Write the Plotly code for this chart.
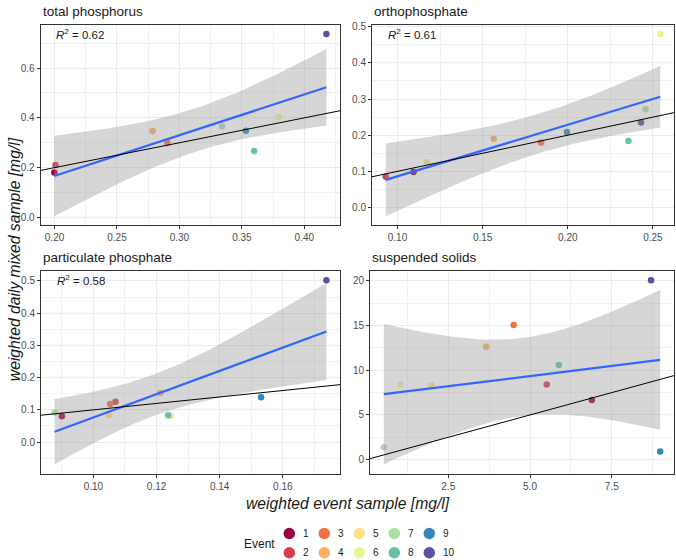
import numpy as np
import plotly.graph_objects as go

# ---------------- data ----------------
events = [1, 2, 3, 4, 5, 6, 7, 8, 9, 10]
event_colors = ["#9E0142", "#D53E4F", "#F46D43", "#FDAE61", "#FEE08B",
                "#E6F598", "#ABDDA4", "#66C2A5", "#3288BD", "#5E4FA2"]

panel_titles = ["total phosphorus", "orthophosphate", "particulate phosphate", "suspended solids"]
r2_labels = ["0.62", "0.61", "0.58", None]

tp_event = [0.1998, 0.2008, 0.2903, 0.2785, None, 0.3796, 0.3340, 0.3598, 0.3532, 0.4177]
tp_daily = [0.180, 0.211, 0.299, 0.347, None, 0.403, 0.366, 0.267, 0.348, 0.737]

op_event = [0.1094, 0.0931, 0.1843, 0.1565, 0.1172, 0.2543, 0.2457, 0.2356, 0.1995, 0.2430]
op_daily = [0.098, 0.086, 0.180, 0.190, 0.125, 0.480, 0.272, 0.184, 0.209, 0.235]

pp_event = [0.0900, 0.1070, 0.1053, 0.1212, 0.1049, 0.1245, 0.0877, 0.1237, 0.1531, 0.1738]
pp_daily = [0.080, 0.125, 0.118, 0.152, 0.083, 0.081, 0.092, 0.083, 0.139, 0.502]

ss_event = [6.89, 5.51, 4.50, 3.66, 1.99, 1.03, 0.53, 5.88, 8.98, 8.70]
ss_daily = [6.67, 8.40, 15.07, 12.62, 8.29, 8.44, 1.40, 10.59, 0.92, 20.07]

x_data = [tp_event, op_event, pp_event, ss_event]
y_data = [tp_daily, op_daily, pp_daily, ss_daily]

x_dticks = [0.05, 0.05, 0.02, 2.5]
y_dticks = [0.2, 0.1, 0.1, 5]
x_fmts = [".2f", ".2f", ".2f", ".1f"]
y_fmts = [".1f", ".1f", ".1f", "d"]

# ---------------- layout geometry (pixels) ----------------
W, H = 676, 560
panel_px = [  # (left, right, top, bottom)
    (40.7, 340, 21, 223),
    (372, 674, 21, 223),
    (41, 340, 269, 473),
    (370, 674, 269, 473),
]

T975 = {7: 2.364624, 8: 2.306004, 9: 2.262157}


def lm_band(x, y, npts=80):
    n = len(x)
    b1, b0 = np.polyfit(x, y, 1)
    resid = y - (b0 + b1 * x)
    s = np.sqrt(np.sum(resid ** 2) / (n - 2))
    xs = np.linspace(x.min(), x.max(), npts)
    yhat = b0 + b1 * xs
    sxx = np.sum((x - x.mean()) ** 2)
    se = s * np.sqrt(1.0 / n + (xs - x.mean()) ** 2 / sxx)
    t = T975[n - 2]
    return xs, yhat, yhat - t * se, yhat + t * se


fig = go.Figure()
layout = dict(
    width=W, height=H, margin=dict(l=0, r=0, t=0, b=0),
    paper_bgcolor="white", plot_bgcolor="rgba(0,0,0,0)",
    font=dict(family="Liberation Sans, Arial, sans-serif", color="#1A1A1A"),
    showlegend=False,
)
annotations = []

for i in range(4):
    k = i + 1
    xa = "x" if k == 1 else f"x{k}"
    ya = "y" if k == 1 else f"y{k}"
    pts = [(xv, yv, c) for xv, yv, c in zip(x_data[i], y_data[i], event_colors)
           if xv is not None and yv is not None]
    xs_p = np.array([p[0] for p in pts])
    ys_p = np.array([p[1] for p in pts])
    cs_p = [p[2] for p in pts]

    xs, yhat, lo, hi = lm_band(xs_p, ys_p)

    xmin, xmax = xs_p.min(), xs_p.max()
    xspan = xmax - xmin
    xr = [xmin - 0.05 * xspan, xmax + 0.05 * xspan]
    ymin = min(ys_p.min(), lo.min())
    ymax = max(ys_p.max(), hi.max())
    yspan = ymax - ymin
    yr = [ymin - 0.05 * yspan, ymax + 0.05 * yspan]

    fig.add_trace(go.Scatter(x=xs_p, y=ys_p, mode="markers", xaxis=xa, yaxis=ya,
                             marker=dict(color=cs_p, size=6.5, line=dict(width=0)),
                             hoverinfo="skip"))
    fig.add_trace(go.Scatter(x=np.concatenate([xs, xs[::-1]]), y=np.concatenate([hi, lo[::-1]]),
                             mode="lines", fill="toself", fillcolor="rgba(153,153,153,0.4)",
                             line=dict(width=0), xaxis=xa, yaxis=ya, hoverinfo="skip"))
    fig.add_trace(go.Scatter(x=xs, y=yhat, mode="lines", line=dict(color="#3366FF", width=2.2),
                             xaxis=xa, yaxis=ya, hoverinfo="skip"))
    fig.add_trace(go.Scatter(x=[xr[0], xr[1]], y=[xr[0], xr[1]], mode="lines",
                             line=dict(color="black", width=1), xaxis=xa, yaxis=ya,
                             hoverinfo="skip"))

    l, r, t, b = panel_px[i]
    common = dict(showgrid=True, gridcolor="#EBEBEB", gridwidth=1, zeroline=False,
                  showline=True, mirror=True, linecolor="#333333", linewidth=1,
                  ticks="outside", ticklen=3, tickcolor="#333333", tickwidth=1,
                  tickfont=dict(size=10, color="#4D4D4D",
                                family="Liberation Sans, Arial, sans-serif"))
    layout["xaxis" if k == 1 else f"xaxis{k}"] = dict(
        common, domain=[l / W, r / W], range=xr, anchor=ya,
        tick0=0, dtick=x_dticks[i], tickformat=x_fmts[i],
        minor=dict(dtick=x_dticks[i] / 2, tick0=0, showgrid=True, gridcolor="#F2F2F2",
                   gridwidth=1, ticks=""),
    )
    layout["yaxis" if k == 1 else f"yaxis{k}"] = dict(
        common, domain=[1 - b / H, 1 - t / H], range=yr, anchor=xa,
        tick0=0, dtick=y_dticks[i], tickformat=y_fmts[i],
        minor=dict(dtick=y_dticks[i] / 2, tick0=0, showgrid=True, gridcolor="#F2F2F2",
                   gridwidth=1, ticks=""),
    )

    annotations.append(dict(text=panel_titles[i], xref="paper", yref="paper",
                            x=l / W, y=1 - (t - 13.5) / H, xanchor="left", yanchor="middle",
                            showarrow=False, font=dict(size=13.5, color="#1A1A1A")))
    if r2_labels[i] is not None:
        annotations.append(dict(text=f"<i>R</i><sup>2</sup> = {r2_labels[i]}", xref=xa, yref=ya,
                                x=xmin, y=ys_p.max(), xanchor="left", yanchor="middle",
                                showarrow=False, font=dict(size=11.5, color="#1A1A1A")))

annotations.append(dict(text="<i>weighted event sample [mg/l]</i>", xref="paper", yref="paper",
                        x=348 / W, y=1 - 503 / H, xanchor="center", yanchor="middle",
                        showarrow=False, font=dict(size=15.7, color="#1A1A1A")))
annotations.append(dict(text="<i>weighted daily mixed sample [mg/l]</i>", xref="paper", yref="paper",
                        x=14 / W, y=1 - 257 / H, xanchor="center", yanchor="middle", textangle=-90,
                        showarrow=False, font=dict(size=15.7, color="#1A1A1A")))

# legend drawn on an overlay axis in pixel units
leg_x0, leg_dx = 289.3, 35
leg_rows = [533.3, 552.7]
lx, ly, lc = [], [], []
for j, (e, c) in enumerate(zip(events, event_colors)):
    col, row = j // 2, j % 2
    cx = leg_x0 + leg_dx * col
    cy = leg_rows[row]
    lx.append(cx)
    ly.append(cy)
    lc.append(c)
    annotations.append(dict(text=str(e), xref="x5", yref="y5", x=cx + 12, y=cy,
                            xanchor="left", yanchor="middle", showarrow=False,
                            font=dict(size=10, color="#1A1A1A")))
fig.add_trace(go.Scatter(x=lx, y=ly, mode="markers", xaxis="x5", yaxis="y5",
                         marker=dict(color=lc, size=11.5, line=dict(width=0)), hoverinfo="skip"))
annotations.append(dict(text="Event", xref="x5", yref="y5", x=259, y=544,
                        xanchor="center", yanchor="middle", showarrow=False,
                        font=dict(size=12, color="#1A1A1A")))
layout["xaxis5"] = dict(domain=[0, 1], range=[0, W], visible=False, anchor="y5", fixedrange=True)
layout["yaxis5"] = dict(domain=[0, 1], range=[H, 0], visible=False, anchor="x5", fixedrange=True)

layout["annotations"] = annotations
fig.update_layout(**layout)
fig.write_html("out.html")
